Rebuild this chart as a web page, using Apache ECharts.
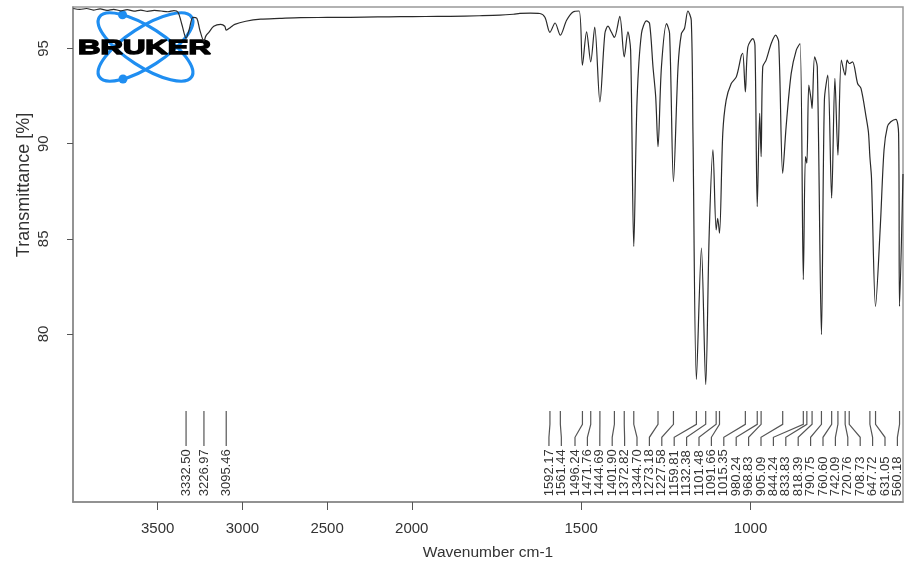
<!DOCTYPE html>
<html><head><meta charset="utf-8">
<script src="https://cdn.jsdelivr.net/npm/echarts@6/dist/echarts.min.js"></script>
<style>html,body{margin:0;padding:0;background:#fff}#c{width:919px;height:566px}</style>
</head><body><div id="c"></div>
<script>
// ---- data (wavenumber in cm-1, transmittance in %) ----
const wavenumbers = [3998,3960,3920,3880,3840,3800,3760,3720,3680,3640,3600,3560,3520,3480,3440,3404,3380,3356,3332.5,3315,3292,3269,3251,3227,3216,3198,3169,3128,3104,3095.5,3069,3045,2980,2892,2780,2657,2500,2363,2200,2069,1960,1887,1800,1740,1700,1681,1650,1622,1607,1592.17,1577,1561.44,1543,1524,1506,1496.24,1484,1471.76,1460,1444.69,1430,1421,1411,1401.9,1386,1372.82,1362,1354,1344.7,1335,1322,1307,1298,1288,1280,1273.18,1263,1248,1239,1227.58,1214,1204,1195,1185,1175,1170,1159.81,1145,1132.38,1122,1111,1101.48,1097,1091.66,1082,1072,1057,1042,1027,1023,1015.35,1008,993,987,980.24,973,968.83,964,954,939,926,917,905.09,895,880,865,854,844.24,838,833.83,828,821,818.39,811,803,790.75,782,772,760.6,751,742.09,732,720.76,715,708.73,699,684,674,659,652,647.72,643,631.05,617,606,596,586,571,563,560.18,550];
const transmittance = [97.10,97.05,97.10,97.02,97.08,97.00,97.06,96.98,97.04,96.96,97.02,96.95,97.00,96.97,96.93,96.99,96.90,96.22,95.54,95.96,96.64,96.59,95.96,95.38,95.65,95.85,96.17,96.27,96.17,95.96,96.12,96.27,96.43,96.54,96.58,96.62,96.63,96.64,96.66,96.67,96.68,96.69,96.72,96.75,96.80,96.84,96.86,96.84,96.64,95.85,96.34,95.70,96.48,96.92,96.97,94.12,95.87,94.30,96.13,92.20,95.79,96.17,95.87,95.58,96.69,94.56,95.87,94.91,84.60,92.29,95.79,96.45,96.31,94.04,92.46,89.84,94.04,96.31,95.79,88.00,94.04,95.79,96.05,96.97,96.48,90.56,77.61,84.51,77.34,85.31,89.67,85.47,86.08,85.30,90.54,92.29,93.16,93.51,94.65,94.74,92.72,95.08,95.52,95.17,86.69,91.59,89.32,94.04,94.39,95.26,95.70,95.35,88.44,90.89,93.69,94.91,95.26,82.85,89.32,88.97,93.08,92.29,91.85,94.56,94.04,79.97,92.29,93.60,87.13,93.43,89.40,94.39,93.60,94.39,94.21,94.30,93.16,92.90,91.41,90.6,89.3,88.2,81.45,85.64,89.67,90.89,91.15,91.28,90.54,81.45,88.4];
const peakWavenumbers = [3332.50,3226.97,3095.46,1592.17,1561.44,1496.24,1471.76,1444.69,1401.90,1372.82,1344.70,1273.18,1227.58,1159.81,1132.38,1101.48,1091.66,1015.35,980.24,968.83,905.09,844.24,833.83,818.39,790.75,760.60,742.09,720.76,708.73,647.72,631.05,560.18];
const xTickLabels = [3500,3000,2500,2000,1500,1000];
const yTickLabels = [80,85,90,95];
const xRange = [550, 4000];
const yRange = [71.17, 97.18];

// ---- broken wavenumber axis (above 2000 cm-1 compressed by 2) ----
const BREAK = 2000;
function toU(w){ return w <= BREAK ? w : BREAK + (w - BREAK) / 2; }
function fromU(u){ return u <= BREAK ? u : BREAK + (u - BREAK) * 2; }

const FONT = "'Liberation Sans', Arial, sans-serif";
const TEXT = '#333';
const BLUE = '#1f8ef1';

function layoutLabels(xs, gap, lo, hi){
  function place(g){
    const n = g.want.length;
    const mean = g.want.reduce((a,b)=>a+b,0)/n;
    let first = mean - (n-1)/2*gap;
    const last = first + (n-1)*gap;
    if (last > hi) first -= (last - hi);
    if (first < lo) first = lo;
    g.pos = first;
  }
  let groups = xs.map((x,i)=>({idx:[i], want:[x], pos:x}));
  groups.forEach(place);
  let changed = true;
  while (changed){
    changed = false;
    for (let k=1;k<groups.length;k++){
      const a = groups[k-1], b = groups[k];
      const aLast = a.pos + (a.want.length-1)*gap;
      if (b.pos - aLast < gap - 1e-6){
        const m = {idx:a.idx.concat(b.idx), want:a.want.concat(b.want)};
        place(m);
        groups.splice(k-1, 2, m);
        changed = true; break;
      }
    }
  }
  const out = [];
  groups.forEach(g=>g.idx.forEach((i,k)=>{ out[i] = g.pos + k*gap; }));
  return out;
}

const chart = echarts.init(document.getElementById('c'), null, {renderer:'canvas'});
chart.setOption({
  animation:false,
  backgroundColor:'#fff',
  grid:{left:73, right:16, top:7, bottom:63, show:true, borderColor:'#999', borderWidth:1.5},
  xAxis:{
    type:'value', inverse:true, min:toU(xRange[0]), max:toU(xRange[1]),
    axisLine:{show:true, onZero:false, lineStyle:{color:'#888', width:1.5}},
    axisTick:{show:true, length:8, customValues:xTickLabels.map(toU), lineStyle:{color:'#555', width:1}},
    axisLabel:{customValues:xTickLabels.map(toU), formatter:v=>String(Math.round(fromU(v))), fontSize:15, color:TEXT, fontFamily:FONT, margin:19},
    splitLine:{show:false},
    name:'Wavenumber cm-1', nameLocation:'middle', nameGap:43,
    nameTextStyle:{fontSize:15.5, color:TEXT, fontFamily:FONT}
  },
  yAxis:{
    type:'value', min:yRange[0], max:yRange[1],
    axisLine:{show:true, onZero:false, lineStyle:{color:'#888', width:1.5}},
    axisTick:{show:true, length:6, customValues:yTickLabels, lineStyle:{color:'#555', width:1}},
    axisLabel:{customValues:yTickLabels, rotate:90, fontSize:15, color:TEXT, fontFamily:FONT, margin:22},
    splitLine:{show:false}
  },
  graphic:[
    {type:'text', x:24, y:185, rotation:Math.PI/2, z:10,
     style:{text:'Transmittance [%]', font:'18px '+FONT, fill:TEXT, align:'center', verticalAlign:'middle'}},
    {type:'group', z:100, children:[
      {type:'ellipse', x:145.5, y:47, rotation:0.576, shape:{cx:0, cy:0, rx:55, ry:19.5}, style:{stroke:BLUE, lineWidth:3.2, fill:null}},
      {type:'ellipse', x:145.5, y:47, rotation:-0.576, shape:{cx:0, cy:0, rx:55, ry:19.5}, style:{stroke:BLUE, lineWidth:3.2, fill:null}},
      {type:'circle', shape:{cx:122.5, cy:14.8, r:4.5}, style:{fill:BLUE}},
      {type:'circle', shape:{cx:123, cy:79, r:4.5}, style:{fill:BLUE}},
      {type:'text', x:144.5, y:48, scaleX:1.48, style:{text:'BRUKER', font:'900 21px '+FONT, fill:'#000', stroke:'#000', lineWidth:1.4, align:'center', verticalAlign:'middle'}}
    ]}
  ],
  series:[
    {
      type:'line', silent:true, z:3,
      data:wavenumbers.map((w,i)=>[toU(w), transmittance[i]]),
      showSymbol:false, symbol:'none', smooth:0.3,
      lineStyle:{color:'#2a2a2a', width:1.2}
    },
    {
      type:'custom', silent:true, z:4,
      data:peakWavenumbers.map(w=>[toU(w), yRange[0]]),
      renderItem:function(params, api){
        const i = params.dataIndex;
        const xs = peakWavenumbers.map(w=>api.coord([toU(w), yRange[0]])[0]);
        const br = api.coord([toU(xRange[0]), yRange[0]]);
        const bl = api.coord([toU(xRange[1]), yRange[0]]);
        const bottom = br[1];
        const lx = layoutLabels(xs, 12.4, bl[0]+6, br[0]-5.6);
        const px = xs[i], L = lx[i];
        return {type:'group', children:[
          {type:'polyline', shape:{points:[[px,bottom-91],[px,bottom-77.7],[L,bottom-64.7],[L,bottom-56]]},
           style:{stroke:'#555', lineWidth:1.2, fill:null}},
          {type:'text', x:L, y:bottom-5.7, rotation:Math.PI/2,
           style:{text:peakWavenumbers[i].toFixed(2), font:'13px '+FONT, fill:TEXT, align:'left', verticalAlign:'middle'}}
        ]};
      }
    }
  ]
});
</script>
</body></html>
